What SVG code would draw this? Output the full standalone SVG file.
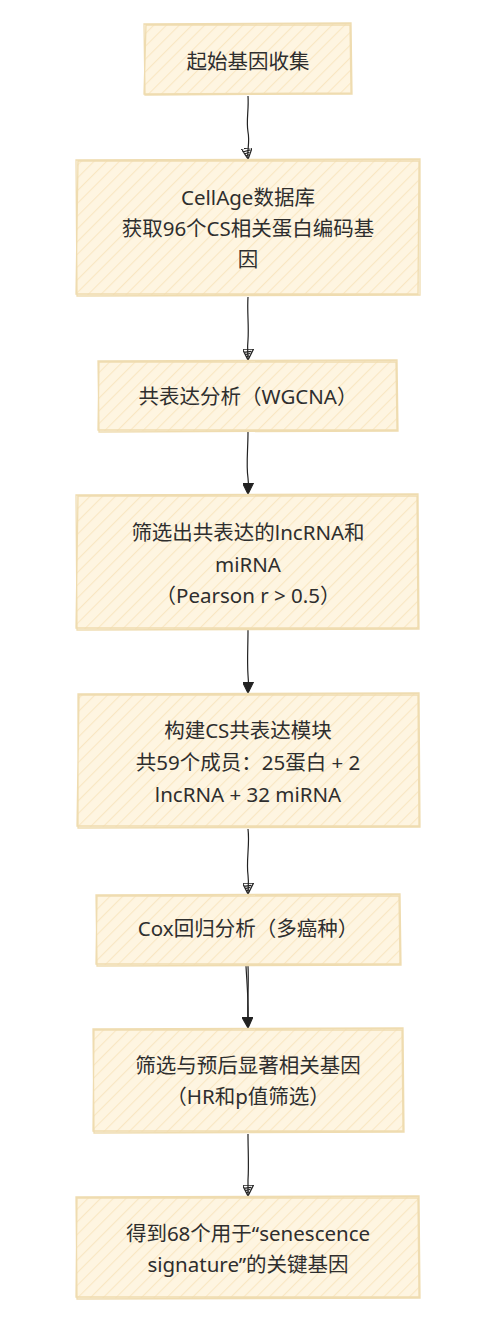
<svg xmlns="http://www.w3.org/2000/svg" width="496" height="1324" viewBox="0 0 496 1324">
<style>
.box{fill:url(#hach);}
.edge{fill:none;stroke:#efdcb0;stroke-width:1.3;}
.lbl{font-family:"Noto Sans","Noto Sans CJK SC",sans-serif;font-size:20.5px;fill:#2e2e2e;text-anchor:middle;}
.conn{fill:none;stroke:#222;stroke-width:1.2;}
</style>
<defs>
<pattern id="hach" patternUnits="userSpaceOnUse" width="9" height="9" patternTransform="rotate(45)">
<rect width="9" height="9" fill="#fef5e1"/>
<line x1="0" y1="0" x2="0" y2="9" stroke="#f9e7c3" stroke-width="2.2"/>
</pattern>
<marker id="af" viewBox="0 0 10 10" refX="9" refY="5" markerWidth="11" markerHeight="11" markerUnits="userSpaceOnUse" orient="auto">
<path d="M0,0 L10,5 L0,10 Z" fill="#222" stroke="#222" stroke-width="1"/>
</marker>
<marker id="ah" viewBox="0 0 10 10" refX="9" refY="5" markerWidth="11" markerHeight="11" markerUnits="userSpaceOnUse" orient="auto">
<path d="M0,0 L10,5 L0,10 Z M2,2 L3,9 M4,3 L5,8 M6,4 L7,6.5" fill="none" stroke="#222" stroke-width="1.1"/>
</marker>
</defs>
<g id="connectors">
<path class="conn" d="M248,96 C249,110 246,120 248,132 C250,142 247,150 248,158" marker-end="url(#ah)"/>
<path class="conn" d="M248,297 C247,312 249,325 248,340 C247,348 248,354 248,359" marker-end="url(#ah)"/>
<path class="conn" d="M248,432 C248,450 246,465 248,478 C249,485 248,490 248,493" marker-end="url(#af)"/>
<path class="conn" d="M248,630 C248,648 247,660 248,675 C249,683 248,688 248,692" marker-end="url(#af)"/>
<path class="conn" d="M248,829 C250,845 246,860 248,875 C249,883 248,889 248,893" marker-end="url(#ah)"/>
<path class="conn" d="M248,966 C249,985 247,1005 248,1027" marker-end="url(#af)"/>
<path class="conn" d="M246,966 C247,985 249,1005 248,1027"/>
<path class="conn" d="M248,1134 C248,1150 249,1165 248,1180 C248,1188 248,1192 248,1195" marker-end="url(#ah)"/>
</g>
<g id="n1">
<rect class="box" x="145" y="24" width="206" height="70"/>
<path class="edge" d="M144,24 L351,23 L352,94 L145,95 Z M146,25 L350,25 L351,93 L144,94 Z"/>
<text class="lbl" x="248" y="69">起始基因收集</text>
</g>
<g id="n2">
<rect class="box" x="77" y="160" width="342" height="135"/>
<path class="edge" d="M76,160 L420,159 L420,295 L77,296 Z M78,161 L419,161 L418,294 L76,294 Z"/>
<text class="lbl" x="248" y="205">CellAge数据库</text>
<text class="lbl" x="248" y="236">获取96个CS相关蛋白编码基</text>
<text class="lbl" x="248" y="267">因</text>
</g>
<g id="n3">
<rect class="box" x="98" y="361" width="299" height="70"/>
<path class="edge" d="M98,361 L397,360 L398,431 L99,432 Z M99,362 L396,362 L397,430 L98,430 Z"/>
<text class="lbl" x="248" y="404">共表达分析（WGCNA）</text>
</g>
<g id="n4">
<rect class="box" x="77" y="495" width="341" height="134"/>
<path class="edge" d="M76,495 L418,494 L419,629 L77,630 Z M78,496 L417,496 L418,628 L76,628 Z"/>
<text class="lbl" x="248" y="540">筛选出共表达的lncRNA和</text>
<text class="lbl" x="248" y="572">miRNA</text>
<text class="lbl" x="248" y="603">（Pearson r &gt; 0.5）</text>
</g>
<g id="n5">
<rect class="box" x="78" y="694" width="341" height="133"/>
<path class="edge" d="M78,694 L419,693 L420,827 L78,828 Z M79,695 L418,695 L419,826 L77,826 Z"/>
<text class="lbl" x="248" y="738">构建CS共表达模块</text>
<text class="lbl" x="248" y="770">共59个成员：25蛋白 + 2</text>
<text class="lbl" x="248" y="802">lncRNA + 32 miRNA</text>
</g>
<g id="n6">
<rect class="box" x="96" y="895" width="304" height="70"/>
<path class="edge" d="M96,895 L400,894 L401,965 L97,966 Z M97,896 L399,896 L400,964 L96,964 Z"/>
<text class="lbl" x="248" y="936">Cox回归分析（多癌种）</text>
</g>
<g id="n7">
<rect class="box" x="93" y="1029" width="310" height="103"/>
<path class="edge" d="M93,1029 L403,1028 L404,1132 L94,1133 Z M94,1030 L402,1030 L403,1131 L93,1131 Z"/>
<text class="lbl" x="248" y="1073">筛选与预后显著相关基因</text>
<text class="lbl" x="248" y="1104">（HR和p值筛选）</text>
</g>
<g id="n8">
<rect class="box" x="76" y="1197" width="343" height="101"/>
<path class="edge" d="M76,1197 L419,1196 L420,1298 L77,1299 Z M77,1198 L418,1198 L419,1297 L76,1297 Z"/>
<text class="lbl" x="248" y="1241">得到68个用于“senescence</text>
<text class="lbl" x="248" y="1272">signature”的关键基因</text>
</g>
</svg>
